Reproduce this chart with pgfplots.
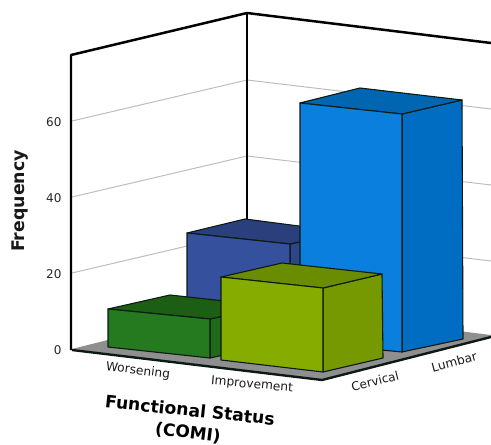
\documentclass[border=0pt]{standalone}
\usepackage{fontspec}
\setmainfont{DejaVu Sans}
\usepackage{pgfplots}
\pgfplotsset{compat=1.18}
\definecolor{gridgray}{HTML}{BDBDBD}
\definecolor{floorgray}{HTML}{8F8F8F}
\definecolor{edge}{HTML}{0C1A14}
% front, top and side shades of each bar
\definecolor{wf}{HTML}{257A1F}\definecolor{wt}{HTML}{1B5E14}\definecolor{ws}{HTML}{1F6B1A}
\definecolor{nf}{HTML}{35509C}\definecolor{nt}{HTML}{2B3F7C}\definecolor{ns}{HTML}{2E4686}
\definecolor{lf}{HTML}{87AC00}\definecolor{lt}{HTML}{6A8C00}\definecolor{ls}{HTML}{769800}
\definecolor{bf}{HTML}{0A7FDD}\definecolor{bt}{HTML}{0066B2}\definecolor{bs}{HTML}{006DC2}
\newcommand{\face}[2]{\addplot[fill=#1,draw=edge,line width=1.1pt,line join=round] coordinates {#2} -- cycle;}
\begin{document}
\begin{tikzpicture}
\path[use as bounding box] (0,0) rectangle (491bp,445bp);
\begin{axis}[
  at={(0,0)}, anchor=south west,
  width=491bp, height=445bp, scale only axis,
  xmin=0, xmax=491, ymin=0, ymax=445, y dir=reverse,
  hide axis, clip=true,
]
% gridlines on the two back walls
\addplot[gridgray,line width=1pt] coordinates {(72,121) (247,80) (491,109)};
\addplot[gridgray,line width=1pt] coordinates {(72,197) (247,156) (491,185)};
\addplot[gridgray,line width=1pt] coordinates {(72,273) (247,232) (491,261)};
% floor
\addplot[fill=floorgray,draw=none] coordinates {(72,349) (247,305) (491,335) (491,337) (323,380)} -- cycle;
% wall frame
\addplot[black,line width=2.5pt,line join=round] coordinates {(71,350) (71,55) (247,13) (491,43)};
\addplot[black,line width=2.3pt] coordinates {(247,13) (247,225)};
% front edge of the floor
\addplot[edge,line width=2.4pt,line join=round] coordinates {(72,350) (322,380) (491,337)};
% Lumbar, Worsening
\face{ns}{(290,244) (345,232) (345,300) (290,310)}
\face{nt}{(187,233) (245,219) (345,232) (290,244)}
\face{nf}{(187,233) (290,244) (290,310) (187,300)}
% Cervical, Worsening
\face{ws}{(210,319) (270,306) (270,345) (210,358)}
\face{wt}{(108,309) (170,295) (270,306) (210,319)}
\face{wf}{(108,309) (210,319) (210,358) (108,347)}
% Lumbar, Improvement
\face{bs}{(402,114) (462,100) (463,339) (402,352)}
\face{bt}{(300,103) (360,88) (462,100) (402,114)}
\face{bf}{(300,103) (402,114) (402,352) (300,342)}
% Cervical, Improvement
\face{ls}{(323,288) (382,274) (383,358) (323,372)}
\face{lt}{(221,277) (282,263) (382,274) (323,288)}
\face{lf}{(221,277) (323,288) (323,372) (221,360)}
% axis text
\node[anchor=east,font=\fontsize{12bp}{14bp}\selectfont,text=black!85] at (axis cs:65,122) {60};
\node[anchor=east,font=\fontsize{12bp}{14bp}\selectfont,text=black!85] at (axis cs:65,198) {40};
\node[anchor=east,font=\fontsize{12bp}{14bp}\selectfont,text=black!85] at (axis cs:65,274) {20};
\node[anchor=east,font=\fontsize{12bp}{14bp}\selectfont,text=black!85] at (axis cs:65,350) {0};
\node[rotate=90,font=\bfseries\fontsize{17.4bp}{19bp}\selectfont,text=black!90] at (axis cs:20,201) {Frequency};
\node[rotate=-7,font=\fontsize{12.2bp}{14bp}\selectfont,text=black!90] at (axis cs:138,371) {Worsening};
\node[rotate=-5,font=\fontsize{12.2bp}{14bp}\selectfont,text=black!90] at (axis cs:252,385) {Improvement};
\node[rotate=14,font=\fontsize{12bp}{14bp}\selectfont,text=black!90] at (axis cs:375,381) {Cervical};
\node[rotate=15,font=\fontsize{12.2bp}{14bp}\selectfont,text=black!90] at (axis cs:454,362) {Lumbar};
\node[rotate=-6,font=\bfseries\fontsize{17.2bp}{19bp}\selectfont,text=black] at (axis cs:190,410) {Functional Status};
\node[rotate=-7,font=\bfseries\fontsize{17bp}{19bp}\selectfont,text=black] at (axis cs:188,433) {(COMI)};
\end{axis}
\end{tikzpicture}
\end{document}
